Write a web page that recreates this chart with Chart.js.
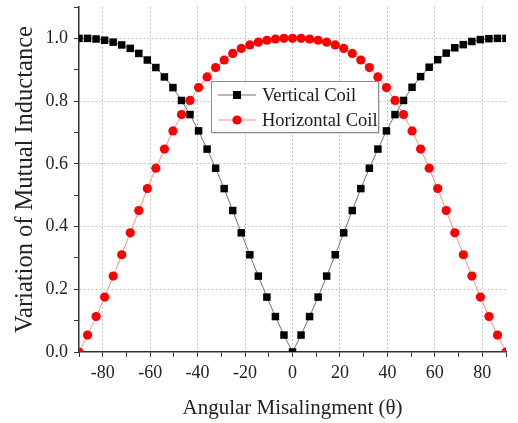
<!DOCTYPE html>
<html>
<head>
<meta charset="utf-8">
<script src="https://cdn.jsdelivr.net/npm/chart.js@4.4.1/dist/chart.umd.min.js"></script>
<style>
  html, body { margin: 0; padding: 0; background: #fff; }
</style>
</head>
<body>
<canvas id="chart" width="518" height="423"></canvas>
<script>
// angles (degrees), one point every 3.6 deg
const angles = [-90, -86.4, -82.8, -79.2, -75.6, -72, -68.4, -64.8, -61.2, -57.6, -54, -50.4, -46.8,
  -43.2, -39.6, -36, -32.4, -28.8, -25.2, -21.6, -18, -14.4, -10.8, -7.2, -3.6, 0,
  3.6, 7.2, 10.8, 14.4, 18, 21.6, 25.2, 28.8, 32.4, 36, 39.6, 43.2, 46.8,
  50.4, 54, 57.6, 61.2, 64.8, 68.4, 72, 75.6, 79.2, 82.8, 86.4, 90];

const verticalCoil = [1.000, 1.000, 0.998, 0.994, 0.988, 0.979, 0.968, 0.952, 0.931, 0.907, 0.877, 0.843, 0.802,
  0.757, 0.705, 0.647, 0.586, 0.521, 0.451, 0.380, 0.310, 0.242, 0.175, 0.113, 0.054, 0.000,
  0.054, 0.113, 0.175, 0.242, 0.310, 0.380, 0.451, 0.521, 0.586, 0.647, 0.705, 0.757, 0.802,
  0.844, 0.878, 0.908, 0.932, 0.953, 0.970, 0.980, 0.990, 0.996, 0.999, 1.000, 1.000];

const horizontalCoil = [0.000, 0.054, 0.113, 0.175, 0.242, 0.310, 0.380, 0.451, 0.521, 0.586, 0.647, 0.705, 0.757,
  0.802, 0.843, 0.877, 0.907, 0.931, 0.952, 0.968, 0.979, 0.988, 0.994, 0.998, 1.000, 1.000,
  1.000, 0.998, 0.994, 0.988, 0.979, 0.968, 0.952, 0.931, 0.907, 0.877, 0.843, 0.802, 0.757,
  0.705, 0.647, 0.586, 0.521, 0.451, 0.380, 0.310, 0.242, 0.175, 0.113, 0.054, 0.000];

const seriesNames = ['Vertical Coil', 'Horizontal Coil'];
const xLabelTicks = [-80, -60, -40, -20, 0, 20, 40, 60, 80];
const yLabelTicks = [0.0, 0.2, 0.4, 0.6, 0.8, 1.0];

const serif = '"Liberation Serif", "Times New Roman", serif';
const axisColor = '#333';
const gridColor = '#c4c4c4';

function toPoints(ys) {
    return angles.map((a, i) => ({ x: a, y: ys[i] }));
}
function isLabelled(list, v) {
    return list.some(t => Math.abs(t - v) < 1e-6);
}

// legend drawn inside the plot, like the original
const insideLegend = {
    id: 'insideLegend',
    afterDatasetsDraw(chart) {
        const ctx = chart.ctx;
        const x0 = 211, y0 = 81, w = 167, h = 51;
        ctx.save();
        ctx.fillStyle = '#bdbdbd';
        ctx.fillRect(x0 + 1.5, y0 + 1.5, w, h);
        ctx.fillStyle = '#fff';
        ctx.fillRect(x0, y0, w, h);
        ctx.strokeStyle = '#8a8a8a';
        ctx.lineWidth = 1;
        ctx.strokeRect(x0 + 0.5, y0 + 0.5, w, h);

        const rows = [95, 120];
        chart.data.datasets.forEach((ds, i) => {
            const y = rows[i];
            ctx.strokeStyle = ds.borderColor;
            ctx.lineWidth = 1;
            ctx.beginPath();
            ctx.moveTo(218, y);
            ctx.lineTo(256, y);
            ctx.stroke();
            ctx.fillStyle = ds.pointBackgroundColor;
            if (ds.pointStyle === 'rect') {
                ctx.fillRect(237 - 4, y - 4, 8, 8);
            } else {
                ctx.beginPath();
                ctx.arc(237, y, 4.6, 0, Math.PI * 2);
                ctx.fill();
            }
            ctx.fillStyle = '#1a1a1a';
            ctx.font = '18.5px ' + serif;
            ctx.textBaseline = 'middle';
            ctx.textAlign = 'left';
            ctx.fillText(ds.label, 262, y + 1);
        });
        ctx.restore();
    }
};

new Chart(document.getElementById('chart').getContext('2d'), {
    type: 'line',
    data: {
        datasets: [{
            label: seriesNames[0],
            data: toPoints(verticalCoil),
            borderColor: '#707070',
            borderWidth: 1,
            pointStyle: 'rect',
            pointRadius: 5.3,
            pointBackgroundColor: '#000',
            pointBorderColor: '#000',
            pointBorderWidth: 0,
            clip: 0,
            order: 1
        }, {
            label: seriesNames[1],
            data: toPoints(horizontalCoil),
            borderColor: '#ff8c8c',
            borderWidth: 1,
            pointStyle: 'circle',
            pointRadius: 4.6,
            pointBackgroundColor: '#ff0000',
            pointBorderColor: '#ff0000',
            pointBorderWidth: 0,
            clip: 0,
            order: 0
        }]
    },
    options: {
        responsive: false,
        animation: false,
        layout: { padding: { top: 7, right: 12, left: 0, bottom: 0 } },
        plugins: {
            legend: { display: false },
            tooltip: { enabled: false }
        },
        scales: {
            x: {
                type: 'linear',
                min: -90,
                max: 90,
                afterFit(scale) {
                    scale.height = 71;
                    scale.paddingLeft = 0; scale.paddingRight = 0;
                },
                ticks: {
                    stepSize: 10,
                    autoSkip: false,
                    maxRotation: 0,
                    padding: 5,
                    color: '#222',
                    font: { family: serif, size: 18 },
                    callback: v => isLabelled(xLabelTicks, v) ? String(v) : ''
                },
                grid: {
                    color: c => (c.tick && isLabelled(xLabelTicks, c.tick.value)) ? gridColor : 'rgba(0,0,0,0)',
                    tickColor: axisColor,
                    tickLength: 5,
                    lineWidth: 1
                },
                border: { color: axisColor, width: 1.5, dash: [2, 2] },
                title: {
                    display: true,
                    text: 'Angular Misalingment (θ)',
                    color: '#222',
                    font: { family: serif, size: 21 },
                    padding: { top: 0, bottom: 2 }
                }
            },
            y: {
                type: 'linear',
                min: 0,
                max: 1.1,
                afterFit(scale) {
                    scale.width = 79;
                    scale.paddingTop = 0; scale.paddingBottom = 0;
                },
                ticks: {
                    stepSize: 0.1,
                    autoSkip: false,
                    padding: 6,
                    color: '#222',
                    font: { family: serif, size: 18 },
                    callback: v => isLabelled(yLabelTicks, v) ? v.toFixed(1) : ''
                },
                grid: {
                    color: c => (c.tick && c.tick.value > 0.05 && isLabelled(yLabelTicks, c.tick.value)) ? gridColor : 'rgba(0,0,0,0)',
                    tickColor: axisColor,
                    tickLength: 5,
                    lineWidth: 1
                },
                border: { color: axisColor, width: 1.5, dash: [2, 2] },
                title: {
                    display: true,
                    text: 'Variation of Mutual Inductance',
                    color: '#222',
                    font: { family: serif, size: 24.5 },
                    padding: { top: 11, bottom: 0 }
                }
            }
        }
    },
    plugins: [insideLegend]
});
</script>
</body>
</html>
